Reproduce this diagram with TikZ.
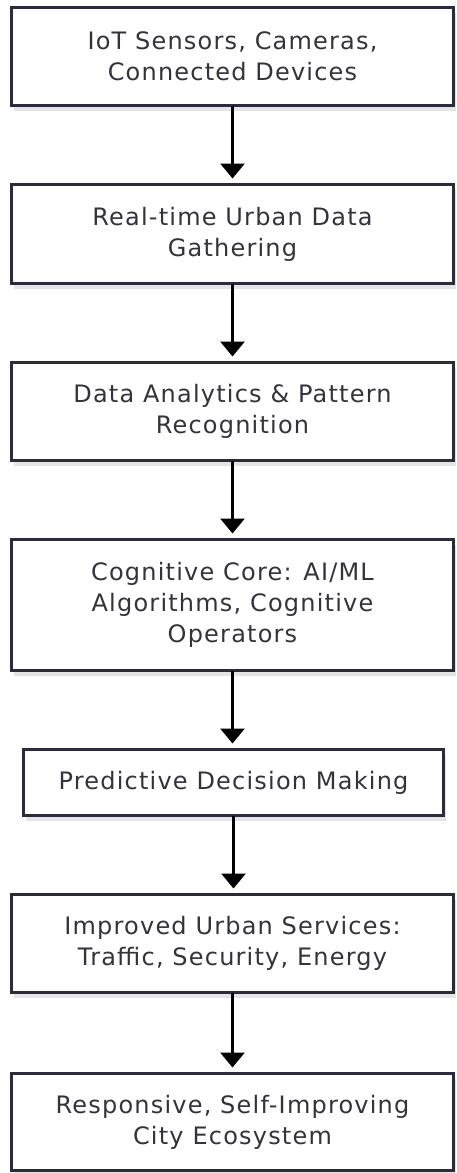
\documentclass[tikz,border=0pt]{standalone}
\usepackage{fontspec}
\setmainfont[LetterSpace=5]{DejaVu Sans}
\usetikzlibrary{arrows.meta,shadows}
\definecolor{boxline}{HTML}{2B2B3B}
\definecolor{txt}{HTML}{33333D}
\begin{document}
\begin{tikzpicture}[x=1pt,y=-1pt,
  flowbox/.style={draw=boxline, line width=3pt, fill=white, rectangle, outer sep=0pt,
    inner sep=0pt, align=center, text=txt,
    font=\fontsize{24pt}{31pt}\selectfont,
    drop shadow={shadow xshift=2pt, shadow yshift=-5pt, opacity=0.10, fill=black}},
  wide/.style={flowbox, minimum width=442pt},
  flowarrow/.style={line width=3pt, black, -{Triangle[width=24pt,length=15pt]}, shorten >=6pt}]
\useasboundingbox (0,0) rectangle (456,1173);
\node[wide, minimum height=98pt] (b1) at (232.5,56.5) {IoT Sensors, Cameras,\\Connected Devices};
\node[wide, minimum height=99pt] (b2) at (232.5,234) {Real-time Urban Data\\Gathering};
\node[wide, minimum height=98pt] (b3) at (232.5,411.5) {Data Analytics \& Pattern\\Recognition};
\node[wide, minimum height=131pt] (b4) at (232.5,605) {Cognitive Core: AI/ML\\Algorithms, Cognitive\\Operators};
\node[flowbox, minimum width=420pt, minimum height=66pt] (b5) at (233.5,782.5) {Predictive Decision Making};
\node[wide, minimum height=98pt] (b6) at (232.5,943.5) {Improved Urban Services:\\Traffic, Security, Energy};
\node[wide, minimum height=97pt] (b7) at (232.5,1122) {Responsive, Self-Improving\\City Ecosystem};
\draw[flowarrow] (b1.south) -- (b2.north);
\draw[flowarrow] (b2.south) -- (b3.north);
\draw[flowarrow] (b3.south) -- (b4.north);
\draw[flowarrow] (b4.south) -- (b4.south |- b5.north);
\draw[flowarrow] (b5.south) -- (b5.south |- b6.north);
\draw[flowarrow] (b6.south) -- (b7.north);
\end{tikzpicture}
\end{document}
